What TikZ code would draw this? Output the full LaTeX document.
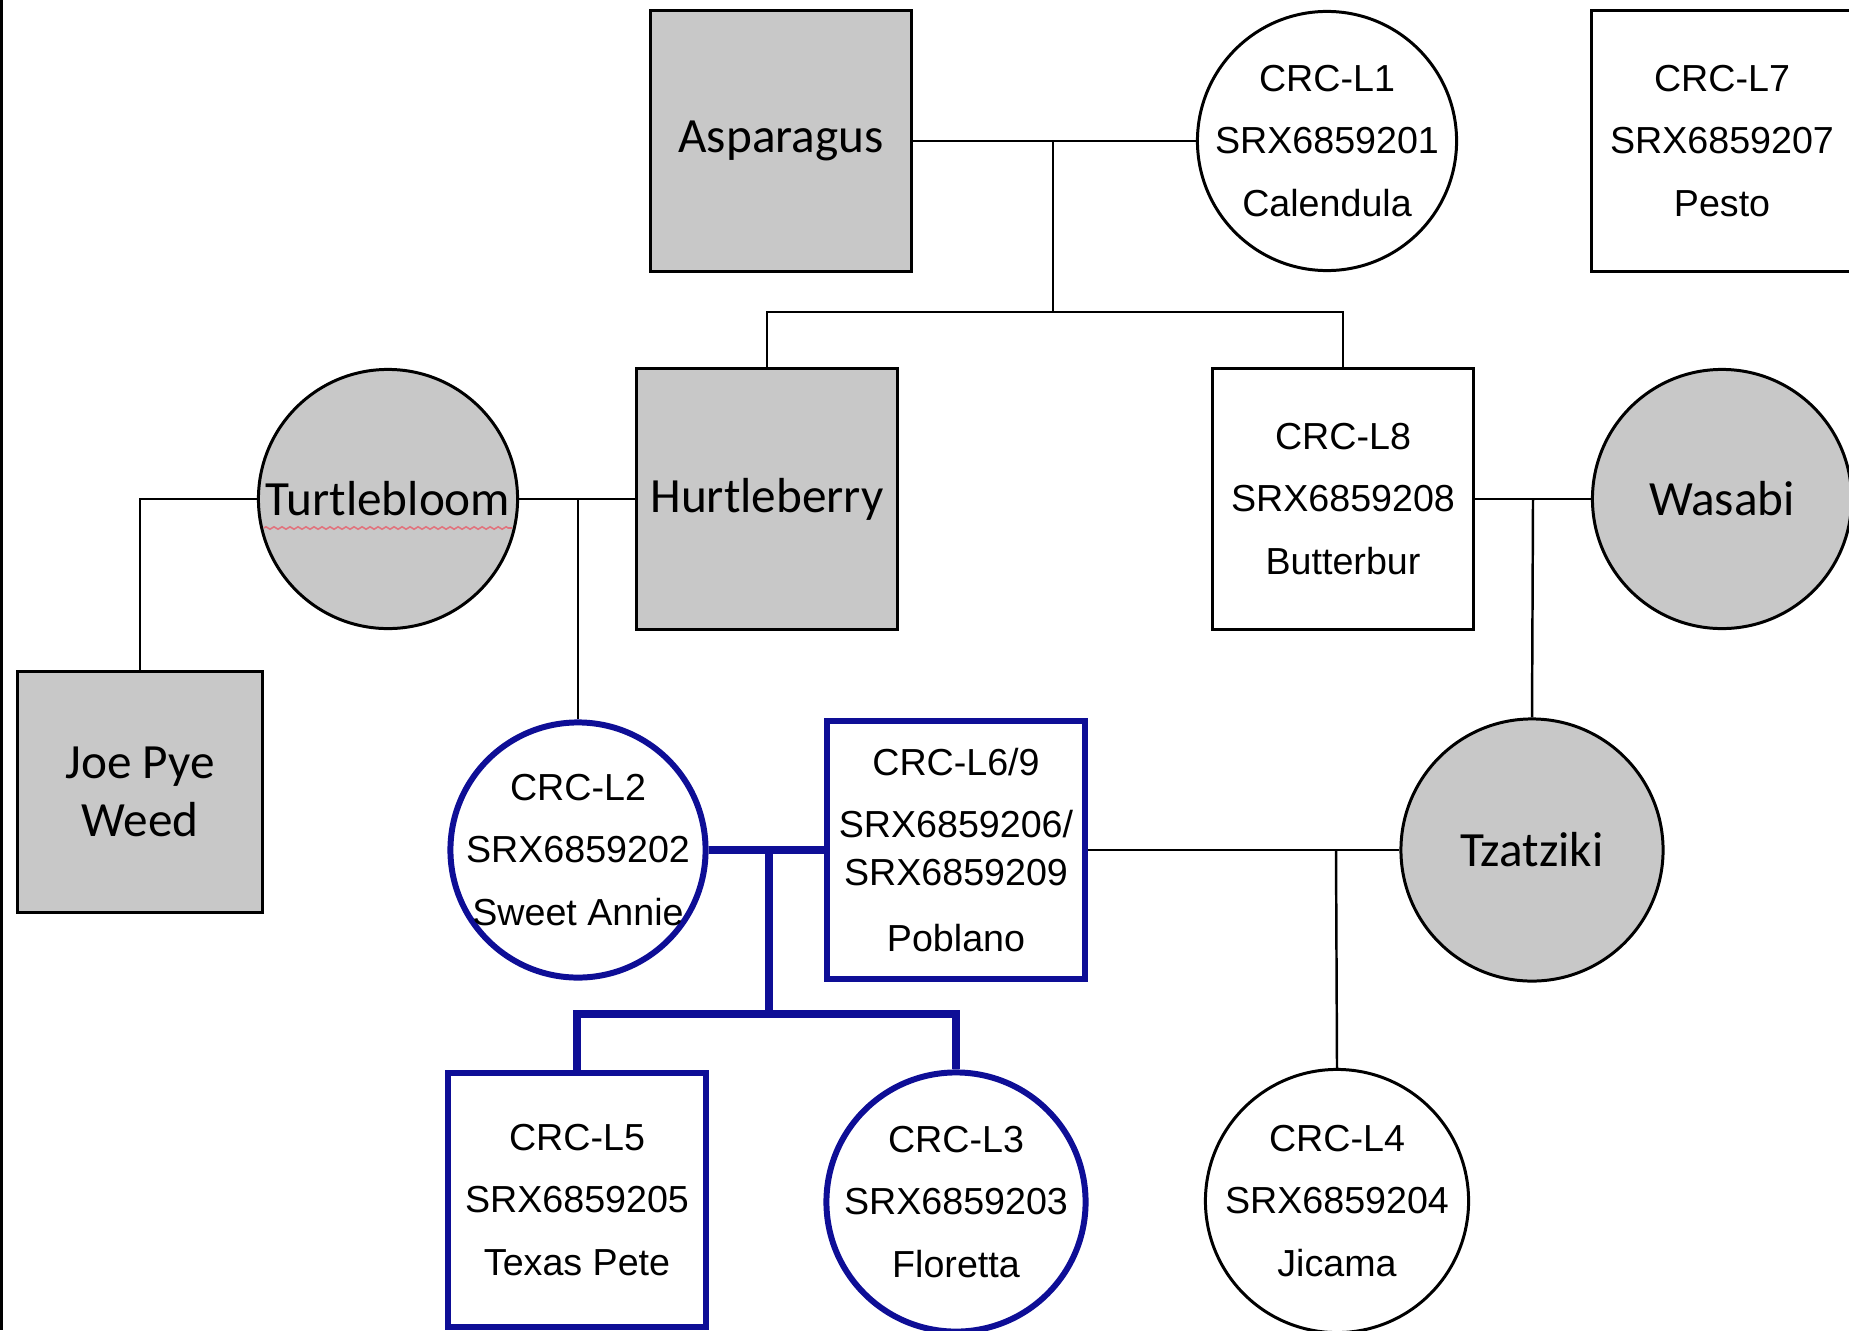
\documentclass[tikz,border=0pt]{standalone}
\usepackage{fontspec}
\setmainfont{Liberation Sans}
\newfontfamily\calibri{Carlito}
\usepackage{tikz}
\usetikzlibrary{positioning, calc, decorations.pathmorphing}
\definecolor{GrisNodo}  {RGB}{200,200,200}
\definecolor{AzulLinea} {RGB}{14, 14, 150}
\definecolor{RojoOndas} {RGB}{225,115,125}

\begin{document}
\begin{tikzpicture}[x=0.01cm, y=-0.01cm, line width=0.7pt,
    macho/.style={draw, rectangle, line width=0.85pt, minimum width=2.6cm, minimum height=2.6cm, inner sep=0pt, align=center},
    hembra/.style={draw, circle, line width=0.85pt, minimum size=2.59cm, inner sep=-0.12cm, align=center},
    gris/.style={fill=GrisNodo, font=\calibri\fontsize{14}{16.4}\selectfont},
    srx/.style={font=\fontsize{10.7}{17.7}\selectfont},
    azul/.style={draw=AzulLinea, line width=1.7pt},
    lazo/.style={AzulLinea, line width=2.3pt},
    onda/.style={RojoOndas, line width=0.45pt, decorate, decoration={zigzag, segment length=0.08cm, amplitude=0.012cm}}]
  \useasboundingbox (0,0) rectangle (1849,1330);
  \fill[white] (0,0) rectangle (1849,1330);
  \fill[black] (0,0) rectangle (3,1330);

  \node[macho, gris] (asp) at (781,141) {Asparagus};
  \node[hembra, srx] (cal) at (1327,141) {CRC-L1\\SRX6859201\\Calendula};
  \node[macho, srx] (pes) at (1722,141) {CRC-L7\\SRX6859207\\Pesto};

  \node[hembra, gris] (tur) at (388,499) {Turtlebloom};
  \node[macho, gris] (hur) at (767,499) {Hurtleberry};
  \node[macho, srx] (but) at (1343,499) {CRC-L8\\SRX6859208\\Butterbur};
  \node[hembra, gris] (was) at (1722,499) {Wasabi};

  \node[macho, gris, minimum width=2.44cm, minimum height=2.4cm] (joe) at (140,792) {Joe Pye\\Weed};
  \node[hembra, srx, azul, minimum size=2.55cm] (swe) at (578,850) {CRC-L2\\SRX6859202\\Sweet Annie};
  \node[macho, srx, azul, minimum size=2.57cm] (pob) at (956,850) {CRC-L6/9\\SRX6859206/\\[-4pt]SRX6859209\\[1pt]Poblano};
  \node[hembra, gris, minimum size=2.62cm] (tza) at (1532,850) {Tzatziki};

  \node[macho, srx, azul, minimum width=2.58cm, minimum height=2.54cm] (tex) at (577,1200) {CRC-L5\\SRX6859205\\Texas Pete};
  \node[hembra, srx, azul] (flo) at (956,1202) {CRC-L3\\SRX6859203\\Floretta};
  \node[hembra, srx, minimum size=2.63cm] (jic) at (1337,1201) {CRC-L4\\SRX6859204\\Jicama};

  \draw[onda] ($(tur.center)+(-124,29)$) -- ($(tur.center)+(124,29)$);

  \coordinate (uno) at (1053,141);
  \coordinate (hermanos) at (1053,312);
  \draw (asp) -- (cal);
  \draw (uno) -- (hermanos);
  \draw (hur.north) |- (hermanos) -| (but.north);

  \coordinate (dos) at (578,499);
  \draw (tur.west) -| (joe.north);
  \draw (tur) -- (hur);
  \draw (dos) -- (swe.north);

  \coordinate (tres) at (1533,499);
  \draw (but) -- (was);
  \draw (tres) -- (tza.north);

  \coordinate (cuatro) at (769,850);
  \coordinate (hijos) at (769,1014);
  \draw[lazo] (swe) -- (pob);
  \draw[lazo] (cuatro) -- (hijos);
  \draw[lazo] (tex.north) |- (hijos) -| (flo.north);

  \coordinate (cinco) at (1336,850);
  \draw (pob) -- (tza);
  \draw (cinco) -- (jic.north);
\end{tikzpicture}
\end{document}
